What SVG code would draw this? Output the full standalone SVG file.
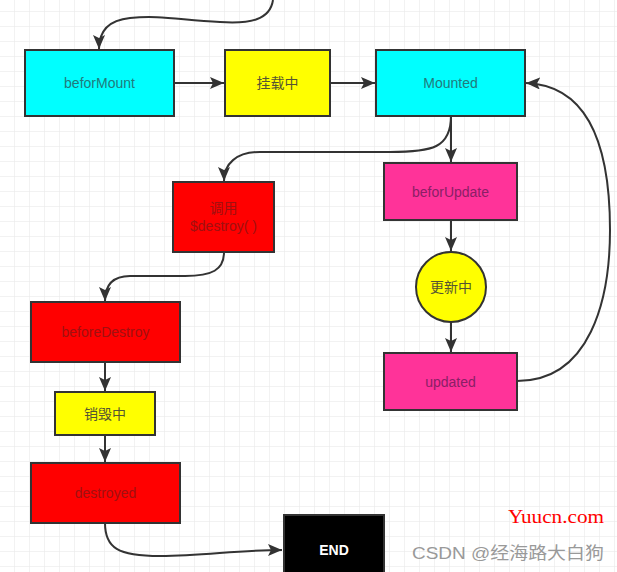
<svg xmlns="http://www.w3.org/2000/svg" width="617" height="572" viewBox="0 0 617 572">
<defs>
<pattern id="grid" x="14" y="11" width="15" height="15" patternUnits="userSpaceOnUse">
<path d="M0 0 H15 M0 0 V15" fill="none" stroke="#e6e6e6" stroke-width="1"/>
</pattern>
<marker id="arr" markerUnits="userSpaceOnUse" markerWidth="15" markerHeight="12" refX="14" refY="6" orient="auto">
<path d="M0 0 L14 6 L0 12 L3 6 Z" fill="#333"/>
</marker>
</defs>
<style>
.n{stroke:#333;stroke-width:2}
.t{font-family:"Liberation Sans","Noto Sans CJK SC",sans-serif;font-size:14px;text-anchor:middle;dominant-baseline:central}
.c{fill:none;stroke:#333;stroke-width:2;marker-end:url(#arr)}
</style>
<rect width="617" height="572" fill="#fff"/>
<rect width="617" height="572" fill="url(#grid)"/>
<g id="connectors">
<path class="c" d="M 273 0 C 270 20, 250 24, 220 22 C 180 20, 160 15, 130 18 C 110 20, 99 30, 99 49"/>
<path class="c" d="M 174 83 L 224 83"/>
<path class="c" d="M 330 83 L 375 83"/>
<path class="c" d="M 451 116 L 451 162"/>
<path class="c" d="M 451 116 C 451 148, 432 152, 390 152 L 260 152 C 236 152, 224 164, 224 181"/>
<path class="c" d="M 451 220 L 451 251"/>
<path class="c" d="M 451 322 L 451 352"/>
<path class="c" d="M 517 381 C 590 381, 610 300, 610 230 C 610 130, 580 85, 526 83"/>
<path class="c" d="M 224 252 C 224 270, 212 276, 185 276 L 130 276 C 113 276, 105 285, 105 301"/>
<path class="c" d="M 105 362 L 105 391"/>
<path class="c" d="M 105 435 L 105 462"/>
<path class="c" d="M 105 523 C 105 548, 118 556, 160 556 C 205 556, 235 550, 282 550"/>
</g>
<g id="beforMount"><rect class="n" x="25" y="50" width="149" height="66" fill="#00ffff" stroke="#1d3c3c"/><text class="t" x="99.5" y="83" fill="#217a7c">beforMount</text></g>
<g id="mounting"><rect class="n" x="225" y="50" width="105" height="66" fill="#ffff00"/><text class="t" x="277.5" y="83" fill="#555533">挂载中</text></g>
<g id="Mounted"><rect class="n" x="376" y="50" width="149" height="66" fill="#00ffff" stroke="#1d3c3c"/><text class="t" x="450.5" y="83" fill="#217a7c">Mounted</text></g>
<g id="beforUpdate"><rect class="n" x="384" y="163" width="133" height="57" fill="#ff3399"/><text class="t" x="450.5" y="191.5" fill="#8a1f66">beforUpdate</text></g>
<g id="updating"><circle class="n" cx="451" cy="287" r="35" fill="#ffff00"/><text class="t" x="451" y="287" fill="#555533">更新中</text></g>
<g id="updated"><rect class="n" x="384" y="353" width="133" height="57" fill="#ff3399"/><text class="t" x="450.5" y="381.5" fill="#8a1f66">updated</text></g>
<g id="callDestroy"><rect class="n" x="173" y="182" width="101" height="70" fill="#ff0000" stroke="#3a1a1a"/><text class="t" x="223.5" y="208" fill="#a01010">调用</text><text class="t" x="223.5" y="226" fill="#a01010">$destroy( )</text></g>
<g id="beforeDestroy"><rect class="n" x="31" y="302" width="149" height="60" fill="#ff0000" stroke="#3a1a1a"/><text class="t" x="105.5" y="332" fill="#a01010">beforeDestroy</text></g>
<g id="destroying"><rect class="n" x="55" y="392" width="100" height="43" fill="#ffff00"/><text class="t" x="105" y="413.5" fill="#555533">销毁中</text></g>
<g id="destroyed"><rect class="n" x="31" y="463" width="149" height="60" fill="#ff0000" stroke="#3a1a1a"/><text class="t" x="105.5" y="493" fill="#a01010">destroyed</text></g>
<g id="END"><rect class="n" x="284" y="515" width="100" height="70" fill="#000"/><text class="t" x="334" y="550" fill="#fff" font-weight="bold">END</text></g>
<text x="508" y="523" font-family="Liberation Serif,serif" font-size="18" fill="#ff0000" textLength="96" lengthAdjust="spacingAndGlyphs">Yuucn.com</text>
<text x="412" y="559" font-family="Liberation Sans,'Noto Sans CJK SC',sans-serif" font-size="17" fill="#999" textLength="192" lengthAdjust="spacingAndGlyphs">CSDN @经海路大白狗</text>
</svg>
